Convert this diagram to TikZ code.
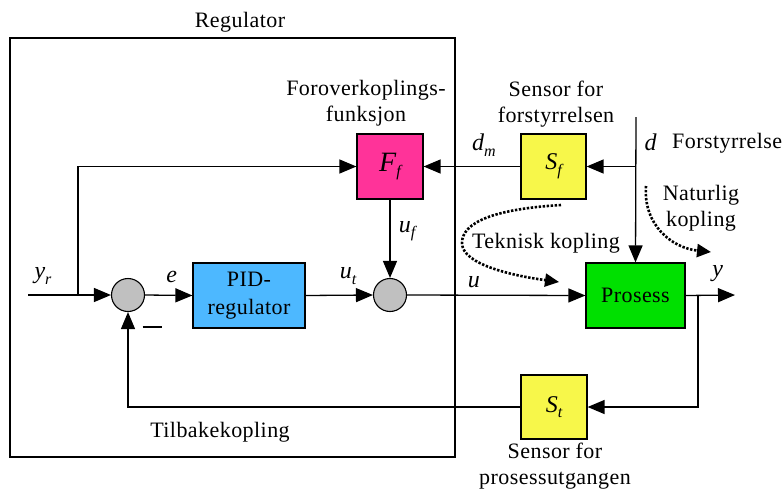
\documentclass[tikz,border=0pt]{standalone}
\usepackage{fontspec}
\setmainfont{Liberation Serif}[LetterSpace=2]
\usetikzlibrary{arrows.meta}

% italic symbol with a lowered italic index
\newcommand\symsub[3][24]{{\fontsize{#1}{#1}\selectfont\itshape #2}\raisebox{-0.25em}{\fontsize{16}{16}\selectfont\itshape #3}}

\definecolor{ffpink}{RGB}{255,51,153}
\definecolor{sensoryellow}{RGB}{247,247,74}
\definecolor{pidblue}{RGB}{77,184,255}
\definecolor{procgreen}{RGB}{0,224,0}
\definecolor{sumgray}{RGB}{192,192,192}

\tikzset{
  blk/.style={draw, line width=1.2pt, inner sep=0pt, align=center,
    font=\fontsize{22}{28}\selectfont},
  sumnode/.style={draw, circle, fill=sumgray, line width=1.1pt,
    minimum size=33pt, inner sep=0pt},
  sig/.style={line width=1.3pt, -{Triangle[length=17pt,width=14pt]}},
  lbl/.style={inner sep=0pt, align=center, font=\fontsize{22}{26}\selectfont},
  coupling/.style={line width=2.6pt, dash pattern=on 2.4pt off 1.6pt,
    -{Triangle[length=14pt,width=13pt]}},
}

\begin{document}
\begin{tikzpicture}[x=1pt,y=-1pt]
\useasboundingbox (0,0) rectangle (783,490);

% controller frame
\node[draw, line width=1.2pt, minimum width=445pt, minimum height=419pt,
  inner sep=0pt] (regbox) at (232.5,247.5) {};
\node[lbl] (reglbl) at (240,22) {Regulator};

% blocks
\node[blk, fill=ffpink, minimum width=66pt, minimum height=65pt] (Ff) at (390,166.5)
  {\symsub[28]{F}{f}};
\node[blk, fill=sensoryellow, minimum width=65pt, minimum height=65pt] (Sf) at (553.5,166.5)
  {\symsub{S}{f}};
\node[blk, fill=sensoryellow, minimum width=66pt, minimum height=64pt] (St) at (554,407)
  {\symsub{S}{t}};
\node[blk, fill=pidblue, minimum width=112pt, minimum height=65pt] (PID) at (249,295.5)
  {PID-\\regulator};
\node[blk, fill=procgreen, minimum width=99pt, minimum height=65pt] (Pro) at (635.5,295.5)
  {Prosess};
\node[sumnode] (sum1) at (128,295) {};
\node[sumnode] (sum2) at (390,295) {};

% free ends and branch points
\coordinate (yrin) at (28,295);
\coordinate (yrbr) at (78,295);
\coordinate (yout) at (735,295);
\coordinate (ytap) at (698,295);
\coordinate (dtop) at (636,117);
\coordinate (dbr) at (636,166.5);

% signal connections
\draw[sig] (yrin) -- (sum1.west);
\draw[sig] (yrbr) |- (Ff.west);
\draw[sig] (sum1.east) -- (PID.west);
\draw[sig] (PID.east) -- (sum2.west);
\draw[sig] (Ff.south) -- (sum2.north);
\draw[sig] (sum2.east) -- (Pro.west);
\draw[sig] (Pro.east) -- (yout);
\draw[sig] (ytap) |- (St.east);
\draw[sig] (St.west) -| (sum1.south);
\draw[sig] (dtop) -- (Pro.north);
\draw[sig] (dbr) -- (Sf.east);
\draw[sig] (Sf.west) -- (Ff.east);

% signal labels
\node[lbl] (lyr) at (43,276) {\symsub{y}{r}};
\node[lbl] (le) at (172,277) {\textit{\fontsize{24}{24}\selectfont e}};
\node[lbl] (lut) at (348,276) {\symsub{u}{t}};
\node[lbl] (luf) at (407,231) {\symsub{u}{f}};
\node[lbl] (lu) at (474,282) {\textit{\fontsize{24}{24}\selectfont u}};
\node[lbl] (ly) at (718,274) {\textit{\fontsize{24}{24}\selectfont y}};
\node[lbl] (ldm) at (484,145) {\symsub{d}{m}};
\node[lbl] (ld) at (651,142) {\textit{\fontsize{24}{24}\selectfont d}};
\node[lbl, anchor=west] (ldist) at (672,143) {Forstyrrelse};
\node[inner sep=0pt] (lminus) at (152,327) {\rule{19pt}{1.6pt}};

% descriptive texts
\node[lbl] (lff) at (366,103) {Foroverkoplings-\\funksjon};
\node[lbl] (lsf) at (556,104) {Sensor for\\forstyrrelsen};
\node[lbl] (lst) at (555,466) {Sensor for\\prosessutgangen};
\node[lbl] (lfb) at (220,432) {Tilbakekopling};
\node[lbl] (ltek) at (546,243) {Teknisk kopling};
\node[lbl] (lnat) at (701,208) {Naturlig\\kopling};

% coupling paths
\coordinate (tekA) at (561,205);
\coordinate (tekB) at (559,282);
\draw[coupling] (tekA) .. controls (495,209) and (462,222) .. (462,243)
  .. controls (462,265) and (515,276) .. (tekB);
\coordinate (natA) at (646,186);
\coordinate (natB) at (711,252);
\draw[coupling] (natA) .. controls (643,225) and (672,248) .. (natB);
\end{tikzpicture}
\end{document}
